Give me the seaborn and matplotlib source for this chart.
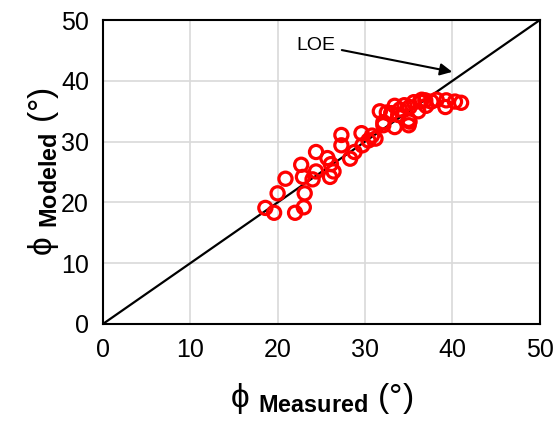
import numpy as np
import pandas as pd
import seaborn as sns
import matplotlib.pyplot as plt

# measured vs modeled friction angle (deg)
phi_measured = [18.6, 19.6, 20.0, 20.9, 22.0, 22.7, 23.0, 22.9, 23.1, 24.0,
                24.4, 24.4, 25.7, 26.0, 26.1, 26.4, 27.3, 27.3, 28.3, 28.8,
                29.6, 29.7, 30.4, 30.8, 31.2, 31.7, 32.1, 32.1, 32.5, 33.0,
                33.4, 33.4, 34.0, 34.5, 35.0, 35.0, 35.1, 35.6, 36.1, 36.3,
                36.5, 36.9, 37.0, 37.6, 38.2, 39.2, 39.3, 40.3, 41.0, 35.1,
                33.8]
phi_modeled = [19.1, 18.3, 21.5, 23.9, 18.3, 26.2, 19.2, 24.2, 21.5, 23.8,
               25.1, 28.3, 27.3, 24.2, 26.3, 25.1, 31.1, 29.4, 27.2, 28.3,
               31.4, 29.4, 30.2, 31.0, 30.5, 35.0, 32.7, 33.2, 34.8, 34.7,
               35.9, 32.4, 35.3, 36.0, 33.6, 32.7, 35.7, 36.5, 35.0, 36.6,
               36.9, 36.8, 35.9, 36.6, 36.9, 35.7, 36.8, 36.6, 36.4, 33.3,
               34.4]
loe = [0, 50]
ticks = [0, 10, 20, 30, 40, 50]

df = pd.DataFrame({"measured": phi_measured, "modeled": phi_modeled})

sns.set_style("white")
plt.rcParams["font.family"] = ["Liberation Sans", "DejaVu Sans"]
plt.rcParams["mathtext.fontset"] = "custom"
plt.rcParams["mathtext.rm"] = "Liberation Sans"
plt.rcParams["mathtext.bf"] = "Liberation Sans:bold"
plt.rcParams["text.color"] = "black"
plt.rcParams["axes.labelcolor"] = "black"
plt.rcParams["xtick.color"] = "black"
plt.rcParams["ytick.color"] = "black"

fig = plt.figure(figsize=(5.53, 4.28), dpi=100)
ax = fig.add_axes([0.186, 0.243, 0.79, 0.71])

ax.plot(loe, loe, color="black", lw=1.6, zorder=2)
sns.scatterplot(data=df, x="measured", y="modeled", ax=ax, marker="o",
                facecolor="none", edgecolor="red", linewidth=2.3, s=90,
                zorder=3)

ax.annotate("LOE", xy=(40.3, 41.4), xytext=(22.2, 45.9),
            fontsize=14, va="center", ha="left",
            arrowprops=dict(arrowstyle="-|>", color="black", lw=1.5,
                            mutation_scale=18))

ax.set_xlim(0, 50)
ax.set_ylim(0, 50)
ax.set_xticks(ticks)
ax.set_yticks(ticks)
ax.tick_params(labelsize=18, length=0, pad=10)
ax.grid(True, color="#d9d9d9", lw=1.2)
ax.set_axisbelow(True)
for sp in ax.spines.values():
    sp.set_color("black")
    sp.set_linewidth(1.5)

ax.set_xlabel("\u03d5 $_{\\mathbf{Measured}}$ (°)", fontsize=24, labelpad=14)
ax.set_ylabel("\u03d5 $_{\\mathbf{Modeled}}$ (°)", fontsize=24, labelpad=0)

fig.savefig("out.png", dpi=100)
